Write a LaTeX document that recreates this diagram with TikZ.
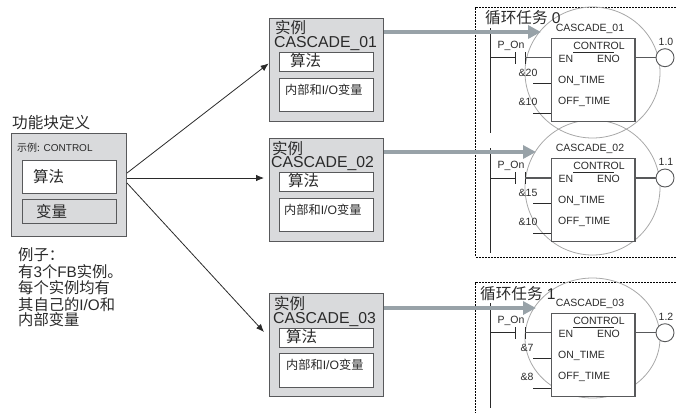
\documentclass[tikz,border=0pt]{standalone}
\usepackage{fontspec}
\setmainfont{Liberation Sans}
\newfontfamily\cjk{Noto Sans CJK SC}
\usetikzlibrary{arrows.meta,shapes.geometric}
\definecolor{boxfill}{HTML}{D9DADC}
\definecolor{boxline}{HTML}{58595B}
\definecolor{greyarrow}{HTML}{98A2A8}
\definecolor{ring}{HTML}{A8A8A8}
\definecolor{ink}{HTML}{2A2A2A}
\tikzset{
  txt/.style={inner sep=0pt,anchor=west,text=ink,font=\fontsize{#1}{#1}\selectfont},
  ctxt/.style={inner sep=0pt,anchor=center,text=ink,font=\fontsize{#1}{#1}\selectfont},
  outerbox/.style={draw=boxline,fill=boxfill,line width=1pt,inner sep=0pt},
  innerbox/.style={draw=boxline,fill=white,line width=1pt,inner sep=0pt},
  flow/.style={draw=ink,line width=0.8pt,-{Latex[length=8pt,width=6.5pt]}},
  bigflow/.style={draw=greyarrow,line width=3.3pt,-{Triangle[length=13pt,width=13pt]}},
  taskframe/.style={draw=black,line width=0.8pt,dash pattern=on 2pt off 1pt},
  wire/.style={draw=ink,line width=1pt},
  greywire/.style={draw=boxline,line width=1.2pt},
  fbblock/.style={draw=boxline,fill=white,line width=1.3pt,inner sep=0pt,minimum width=83.6pt,minimum height=83pt},
  ringshape/.style={draw=ring,ellipse,line width=0.8pt,inner sep=0pt},
  coil/.style={draw=boxline,circle,fill=white,line width=0.9pt,inner sep=0pt,minimum size=18pt},
}
\newcommand{\instancebox}[9]{%
  \node[outerbox,minimum width=114pt,minimum height=103pt,anchor=north west] (#1) at (268.6,#2) {};
  \node[innerbox,minimum width=94pt,minimum height=19pt,anchor=north west] (#1a) at (278.5,#2+34.8) {};
  \node[innerbox,minimum width=94pt,minimum height=33.5pt,anchor=north west] (#1v) at (278.5,#2+60.3) {};
  \node[txt=15.5] (#1h) at (#3,#4) {\cjk 实例};
  \node[txt=15.8] (#1n) at (#5,#6) {CASCADE\_#9};
  \node[txt=15.5] (#1t) at (#7,#2+43.5) {\cjk 算法};
  \node[txt=12.2] (#1u) at (#8,#2+72) {{\cjk 内部和}I/O{\cjk 变量}};
}
\newcommand{\ladder}[7]{%
  \begin{scope}[shift={(0,#2)}]
    \coordinate (#1rt) at (490,28);
    \coordinate (#1rb) at (490,133);
    \draw[wire] (#1rt) -- (#1rb);
    \node[fbblock,anchor=north west] (#1b) at (550.7,37.7) {};
    \node[coil] (#1c) at (665,57.7) {};
    \coordinate (#1k1) at (515,57.7);
    \coordinate (#1k2) at (525,57.7);
    \coordinate (#1on) at (533,83);
    \coordinate (#1off) at (533,113);
    \draw[wire] (#1k1 -| #1rt) -- (#1k1);
    \draw[wire] ([yshift=5.7pt]#1k1) -- ([yshift=-5.8pt]#1k1);
    \draw[wire] ([yshift=5.7pt]#1k2) -- ([yshift=-5.8pt]#1k2);
    \draw[greywire] (#1k2) -- (#1k2 -| #1b.west);
    \draw[greywire] (#1c.west -| #1b.east) -- (#1c.west);
    \draw[wire] (#1on) -- (#1on -| #1b.west);
    \draw[wire] (#1off) -- (#1off -| #1b.west);
    \node[ctxt=10.5] (#1name) at (590,29) {CASCADE\_#3};
    \node[ctxt=10.5] (#1fb) at (599,46) {CONTROL};
    \draw[wire,line width=0.8pt] (573,52) -- (614,52);
    \node[ctxt=10.5] (#1en) at (566,59) {EN};
    \node[ctxt=10.5] (#1eno) at (608.5,59) {ENO};
    \node[txt=10.5] (#1ont) at (558,80.5) {ON\_TIME};
    \node[txt=10.5] (#1oft) at (558,102) {OFF\_TIME};
    \node[ctxt=10.5] (#1p) at (511,46) {P\_On};
    \node[ctxt=10.5] (#1o) at (666,41.5) {#4};
    \node[ctxt=10.5] (#1w) at (#7,72.5) {#5};
    \node[ctxt=10.5] (#1x) at (#7,102) {#6};
  \end{scope}
}
\begin{document}
\begin{tikzpicture}[x=1pt,y=-1pt]
\useasboundingbox (0,0) rectangle (676,413);
\node[txt=15.6] (title) at (12,122.7) {\cjk 功能块定义};
\node[outerbox,minimum width=114.6pt,minimum height=103.5pt,anchor=north west] (def) at (11,132.5) {};
\node[txt=10] (ex) at (17,148) {{\cjk 示例:} CONTROL};
\node[innerbox,minimum width=94pt,minimum height=33pt,anchor=north west] (alg) at (21.5,160) {};
\node[draw=boxline,fill=boxfill,line width=1pt,inner sep=0pt,minimum width=94pt,minimum height=24pt,anchor=north west] (var) at (21.5,199) {};
\node[txt=15.5] (algt) at (33,177) {\cjk 算法};
\node[txt=15.5] (vart) at (36,212) {\cjk 变量};
\node[txt=15.3] (n1) at (18,255) {\cjk 例子：};
\node[txt=15.3] (n2) at (18,272) {{\cjk 有}3{\cjk 个}FB{\cjk 实例。}};
\node[txt=15.3] (n3) at (18,287.5) {\cjk 每个实例均有};
\node[txt=15.3] (n4) at (18,305) {{\cjk 其自己的}I/O{\cjk 和}};
\node[txt=15.3] (n5) at (18,320) {\cjk 内部变量};
\instancebox{iA}{17.5}{275}{28}{274}{43.5}{290}{285}{01}
\instancebox{iB}{137.5}{272}{149}{271}{164}{288}{284}{02}
\instancebox{iC}{292.8}{274}{303.5}{273}{319.5}{286}{286}{03}
\draw[taskframe] (675.5,7) -- (475.7,7) -- (475.7,257) -- (675.5,257);
\draw[taskframe] (675.5,282) -- (475.7,282) -- (475.7,413);
\node[ringshape,minimum width=135pt,minimum height=131pt] (r1) at (592.5,72.5) {};
\node[ringshape,minimum width=135pt,minimum height=135pt] (r2) at (592.5,187.5) {};
\node[ringshape,minimum width=135pt,minimum height=120pt] (r3) at (592.5,338) {};
\node[txt=15.6] (t0) at (485,18) {{\cjk 循环任务} 0};
\node[txt=15.6] (t1) at (480,294) {{\cjk 循环任务} 1};
\ladder{a}{0}{01}{1.0}{\&20}{\&10}{528}
\ladder{b}{120.3}{02}{1.1}{\&15}{\&10}{528}
\ladder{c}{275}{03}{1.2}{\&7}{\&8}{527}
\coordinate (s1) at (127,173);
\coordinate (s2) at (127,178);
\coordinate (s3) at (127,183);
\coordinate (e2) at (264,178);
\coordinate (e3) at (264,332);
\draw[flow] (s1) -- ([yshift=6pt]iA.west);
\draw[flow] (s2) -- (e2);
\draw[flow] (s3) -- (e3);
\coordinate (g1s) at (384,32);
\coordinate (g1e) at (541,32);
\coordinate (g2s) at (384,152);
\coordinate (g2e) at (536,152);
\coordinate (g3s) at (384,308);
\coordinate (g3e) at (536,308);
\draw[bigflow] (g1s) -- (g1e);
\draw[bigflow] (g2s) -- (g2e);
\draw[bigflow] (g3s) -- (g3e);
\end{tikzpicture}
\end{document}
